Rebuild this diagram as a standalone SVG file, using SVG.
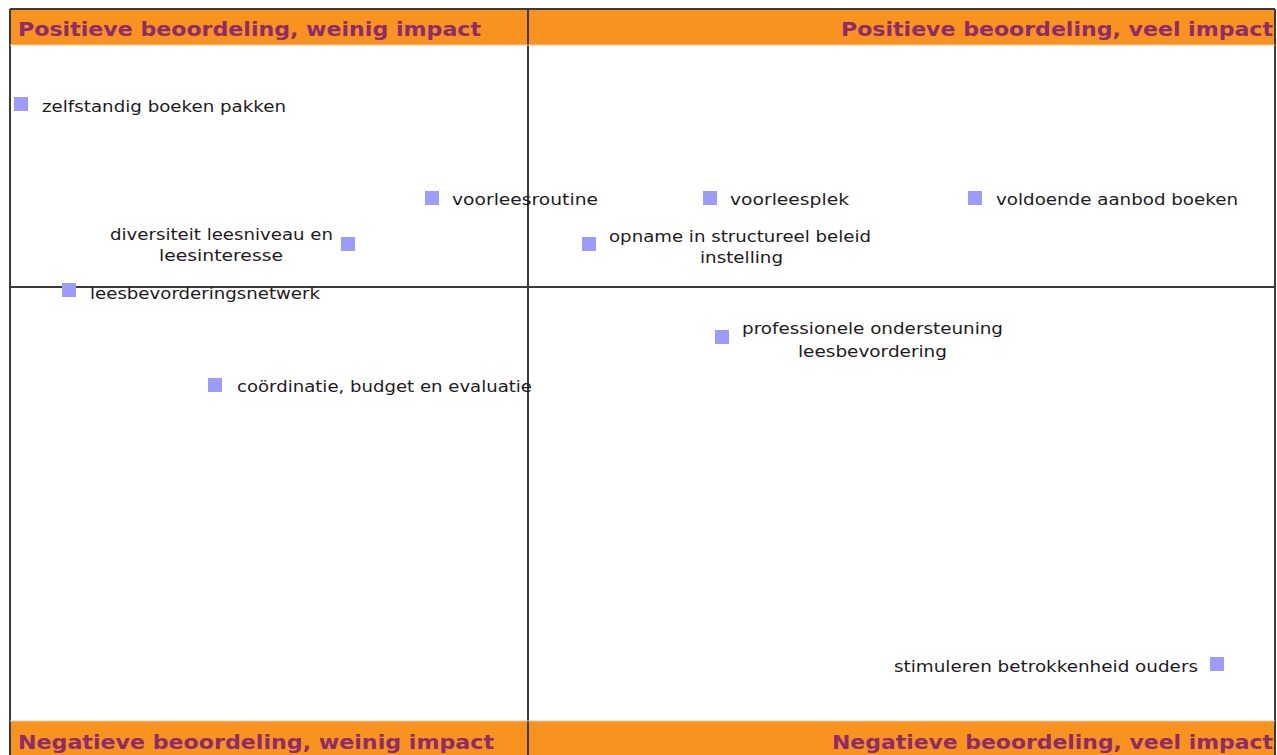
<svg xmlns="http://www.w3.org/2000/svg" width="1277" height="755" viewBox="0 0 1277 755">
<style>
.band{fill:#F7931E}
.hdr{font-family:"DejaVu Sans",Verdana,sans-serif;font-weight:bold;font-size:20px;fill:#8E2B6B}
.lbl{font-family:"DejaVu Sans","Liberation Sans",sans-serif;font-size:16.5px;fill:#1e1a22}
.mk{fill:#9C9CFF}
.ax{stroke:#3a3a3a;stroke-width:2;fill:none}
</style>
<rect x="0" y="0" width="1277" height="755" fill="#ffffff"/>
<g id="bands">
<rect class="band" x="10" y="10" width="1266" height="35"/>
<rect class="band" x="10" y="721" width="1266" height="34"/>
<text class="hdr" x="18" y="36" textLength="463" lengthAdjust="spacingAndGlyphs">Positieve beoordeling, weinig impact</text>
<text class="hdr" x="841" y="36" textLength="432" lengthAdjust="spacingAndGlyphs">Positieve beoordeling, veel impact</text>
<text class="hdr" x="18" y="749" textLength="476" lengthAdjust="spacingAndGlyphs">Negatieve beoordeling, weinig impact</text>
<text class="hdr" x="832" y="749" textLength="441" lengthAdjust="spacingAndGlyphs">Negatieve beoordeling, veel impact</text>
</g>
<g id="axes">
<path class="ax" d="M10 9 H1275 M10 9 V755 M1275 9 V755"/>
<path class="ax" d="M528 9 V755"/>
<path class="ax" d="M10 287 H1275"/>
<path d="M10 45 H1275 M10 721 H1275" stroke="#f3c7a0" stroke-width="1"/>
</g>
<g id="n1"><rect class="mk" x="14" y="97" width="14" height="14"/><text class="lbl" x="42" y="112" textLength="244" lengthAdjust="spacingAndGlyphs">zelfstandig boeken pakken</text></g>
<g id="n2"><rect class="mk" x="425" y="191" width="14" height="14"/><text class="lbl" x="452" y="205" textLength="146" lengthAdjust="spacingAndGlyphs">voorleesroutine</text></g>
<g id="n3"><rect class="mk" x="703" y="191" width="14" height="14"/><text class="lbl" x="730" y="205" textLength="119" lengthAdjust="spacingAndGlyphs">voorleesplek</text></g>
<g id="n4"><rect class="mk" x="968" y="191" width="14" height="14"/><text class="lbl" x="996" y="205" textLength="242" lengthAdjust="spacingAndGlyphs">voldoende aanbod boeken</text></g>
<g id="n5"><rect class="mk" x="341" y="237" width="14" height="14"/><text class="lbl" x="110" y="240" textLength="223" lengthAdjust="spacingAndGlyphs">diversiteit leesniveau en</text><text class="lbl" x="159" y="261" textLength="124" lengthAdjust="spacingAndGlyphs">leesinteresse</text></g>
<g id="n6"><rect class="mk" x="582" y="237" width="14" height="14"/><text class="lbl" x="609" y="242" textLength="262" lengthAdjust="spacingAndGlyphs">opname in structureel beleid</text><text class="lbl" x="700" y="263" textLength="83" lengthAdjust="spacingAndGlyphs">instelling</text></g>
<g id="n7"><rect class="mk" x="62" y="283" width="14" height="14"/><text class="lbl" x="90" y="299" textLength="230" lengthAdjust="spacingAndGlyphs">leesbevorderingsnetwerk</text></g>
<g id="n8"><rect class="mk" x="715" y="330" width="14" height="14"/><text class="lbl" x="742" y="334" textLength="261" lengthAdjust="spacingAndGlyphs">professionele ondersteuning</text><text class="lbl" x="798" y="357" textLength="149" lengthAdjust="spacingAndGlyphs">leesbevordering</text></g>
<g id="n9"><rect class="mk" x="208" y="378" width="14" height="14"/><text class="lbl" x="237" y="392" textLength="295" lengthAdjust="spacingAndGlyphs">coördinatie, budget en evaluatie</text></g>
<g id="n10"><rect class="mk" x="1210" y="657" width="14" height="14"/><text class="lbl" x="894" y="672" textLength="304" lengthAdjust="spacingAndGlyphs">stimuleren betrokkenheid ouders</text></g>
</svg>
